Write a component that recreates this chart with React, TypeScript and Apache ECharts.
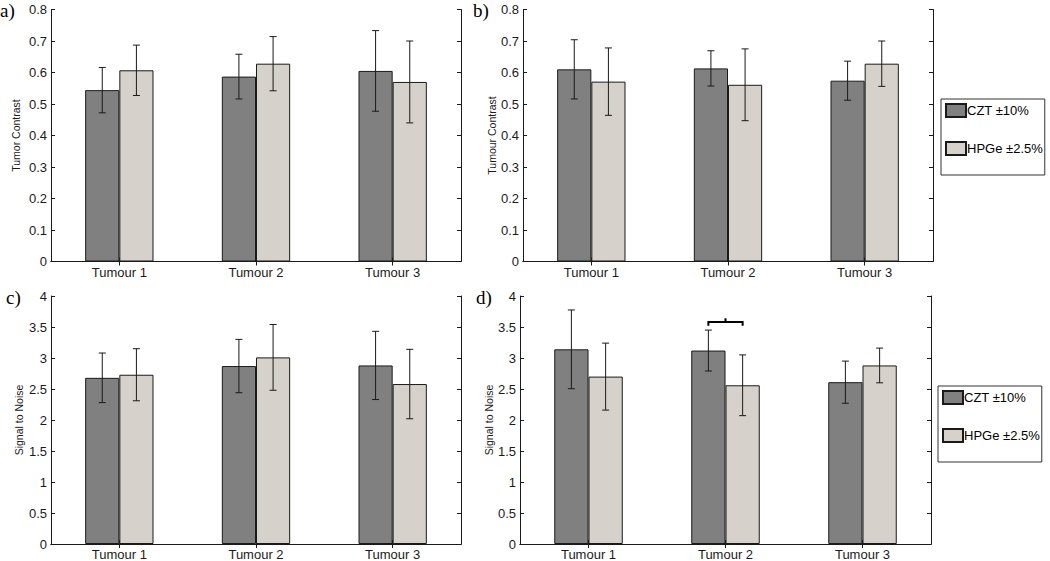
import React, { useEffect, useRef } from "react";
import * as echarts from "echarts";

// ---------- data ----------
const categories = ["Tumour 1", "Tumour 2", "Tumour 3"];
const seriesNames = ["CZT ±10%", "HPGe ±2.5%"];
const panelLetters = ["a)", "b)", "c)", "d)"];
const yAxisNames = ["Tumor Contrast", "Tumour Contrast", "Signal to Noise", "Signal to Noise"];
const yMaxes = [0.8, 0.8, 4, 4];
const yIntervals = [0.1, 0.1, 0.5, 0.5];

// panel a) tumour contrast
const aCzt = [0.544, 0.587, 0.605];
const aCztErr = [0.072, 0.071, 0.128];
const aHpge = [0.607, 0.628, 0.57];
const aHpgeErr = [0.08, 0.086, 0.13];
// panel b) tumour contrast
const bCzt = [0.61, 0.613, 0.574];
const bCztErr = [0.094, 0.056, 0.062];
const bHpge = [0.571, 0.561, 0.628];
const bHpgeErr = [0.107, 0.114, 0.072];
// panel c) signal to noise
const cCzt = [2.68, 2.87, 2.88];
const cCztErr = [0.4, 0.43, 0.55];
const cHpge = [2.73, 3.01, 2.58];
const cHpgeErr = [0.42, 0.53, 0.56];
// panel d) signal to noise
const dCzt = [3.14, 3.12, 2.61];
const dCztErr = [0.635, 0.33, 0.34];
const dHpge = [2.7, 2.56, 2.88];
const dHpgeErr = [0.54, 0.49, 0.28];
// significance brace in panel d (category index, end level, line level, peak level)
const braceCategory = 1;
const braceLevels = [3.52, 3.58, 3.64];

const panelValues = [
  [aCzt, aHpge],
  [bCzt, bHpge],
  [cCzt, cHpge],
  [dCzt, dHpge],
];
const panelErrors = [
  [aCztErr, aHpgeErr],
  [bCztErr, bHpgeErr],
  [cCztErr, cHpgeErr],
  [dCztErr, dHpgeErr],
];

// ---------- layout / style ----------
const grids = [
  { left: 51, top: 9.5, width: 410, height: 252 },
  { left: 523, top: 9.5, width: 410, height: 252 },
  { left: 51, top: 296, width: 410, height: 251.5 },
  { left: 520, top: 296, width: 411, height: 251.5 },
];
const nameGaps = [30, 25.5, 27, 26];
const letterPos = [
  [0, 1],
  [473, 1],
  [6, 288],
  [476, 288],
];
const colors = ["#808080", "#d6d2cb"];
const ink = "#1a1a1a";
const sans = "'Liberation Sans', Arial, sans-serif";
const serif = "'Liberation Serif', 'Times New Roman', serif";

function buildOption() {
  const xAxes: any[] = [];
  const yAxes: any[] = [];
  const series: any[] = [];
  const graphics: any[] = [];

  grids.forEach((g, p) => {
    xAxes.push({
      type: "category",
      gridIndex: p,
      data: categories,
      position: "bottom",
      axisLine: { show: true, lineStyle: { color: ink, width: 1 } },
      axisTick: { show: true, inside: true, alignWithLabel: true, length: 4, lineStyle: { color: ink } },
      axisLabel: { color: ink, fontSize: 13, fontFamily: sans, margin: 4 },
      splitLine: { show: false },
    });
    xAxes.push({
      type: "category",
      gridIndex: p,
      data: categories,
      position: "top",
      axisLine: { show: true, lineStyle: { color: ink, width: 1 } },
      axisTick: { show: true, inside: true, alignWithLabel: true, length: 4, lineStyle: { color: ink } },
      axisLabel: { show: false },
      splitLine: { show: false },
    });
    yAxes.push({
      type: "value",
      gridIndex: p,
      min: 0,
      max: yMaxes[p],
      interval: yIntervals[p],
      position: "left",
      name: yAxisNames[p],
      nameLocation: "middle",
      nameRotate: 90,
      nameGap: nameGaps[p],
      nameTextStyle: { color: ink, fontSize: 10.5, fontFamily: sans },
      axisLine: { show: true, lineStyle: { color: ink, width: 1 } },
      axisTick: { show: true, inside: true, length: 4, lineStyle: { color: ink } },
      axisLabel: { color: ink, fontSize: 13, fontFamily: sans, margin: 4 },
      splitLine: { show: false },
    });
    yAxes.push({
      type: "value",
      gridIndex: p,
      min: 0,
      max: yMaxes[p],
      interval: yIntervals[p],
      position: "right",
      axisLine: { show: true, lineStyle: { color: ink, width: 1 } },
      axisTick: { show: true, inside: true, length: 4, lineStyle: { color: ink } },
      axisLabel: { show: false },
      splitLine: { show: false },
    });

    [0, 1].forEach((s) => {
      series.push({
        type: "bar",
        name: seriesNames[s],
        xAxisIndex: 2 * p,
        yAxisIndex: 2 * p,
        data: panelValues[p][s],
        barGap: "0%",
        barCategoryGap: "50%",
        itemStyle: { color: colors[s], borderColor: ink, borderWidth: 1 },
        z: 2,
      });
    });

    [0, 1].forEach((s) => {
      const side = s === 0 ? -1 : 1;
      const vals = panelValues[p][s];
      const errs = panelErrors[p][s];
      series.push({
        type: "custom",
        name: "err" + p + s,
        xAxisIndex: 2 * p,
        yAxisIndex: 2 * p,
        z: 5,
        encode: { x: 0, y: [1, 2] },
        data: vals.map((v, i) => [i, v - errs[i], v + errs[i]]),
        renderItem: (params: any, api: any) => {
          const x = api.value(0);
          const lo = api.coord([x, api.value(1)]);
          const hi = api.coord([x, api.value(2)]);
          const band = api.size([1, 0])[0];
          const cx = lo[0] + side * band * 0.125;
          const cap = 3.5;
          const st = { stroke: ink, lineWidth: 1 };
          return {
            type: "group",
            children: [
              { type: "line", shape: { x1: cx, y1: lo[1], x2: cx, y2: hi[1] }, style: st },
              { type: "line", shape: { x1: cx - cap, y1: lo[1], x2: cx + cap, y2: lo[1] }, style: st },
              { type: "line", shape: { x1: cx - cap, y1: hi[1], x2: cx + cap, y2: hi[1] }, style: st },
            ],
          };
        },
      });
    });

    graphics.push({
      type: "text",
      left: letterPos[p][0],
      top: letterPos[p][1],
      style: { text: panelLetters[p], fontSize: 19, fontFamily: serif, fill: "#000" },
    });
  });

  // significance brace, panel d
  series.push({
    type: "custom",
    name: "brace",
    xAxisIndex: 6,
    yAxisIndex: 6,
    z: 6,
    encode: { x: 0, y: [1, 2, 3] },
    data: [[braceCategory, braceLevels[0], braceLevels[1], braceLevels[2]]],
    renderItem: (params: any, api: any) => {
      const x = api.value(0);
      const band = api.size([1, 0])[0];
      const c = api.coord([x, api.value(2)]);
      const yEnd = api.coord([x, api.value(1)])[1];
      const yPeak = api.coord([x, api.value(3)])[1];
      const xL = c[0] - band * 0.125;
      const xR = c[0] + band * 0.125;
      return {
        type: "polyline",
        shape: {
          points: [
            [xL, yEnd],
            [xL, c[1]],
            [c[0], c[1]],
            [c[0], yPeak],
            [c[0], c[1]],
            [xR, c[1]],
            [xR, yEnd],
          ],
        },
        style: { stroke: "#000", lineWidth: 2, fill: "none" },
      };
    },
  });

  const legendBase = {
    orient: "vertical",
    data: seriesNames,
    icon: "rect",
    itemWidth: 20,
    itemHeight: 13,
    itemGap: 23,
    padding: [4, 2, 19, 4],
    borderColor: "#333",
    borderWidth: 1,
    backgroundColor: "#fff",
    selectedMode: false,
    textStyle: { color: "#000", fontSize: 13, fontFamily: sans, padding: [0, 0, 0, -4] },
  };

  return {
    animation: false,
    backgroundColor: "#fff",
    grid: grids.map((g) => ({ ...g, containLabel: false })),
    xAxis: xAxes,
    yAxis: yAxes,
    series,
    legend: [
      { ...legendBase, left: 941, top: 99 },
      { ...legendBase, left: 938, top: 386 },
    ],
    graphic: graphics,
  };
}

export default function App() {
  const ref = useRef<HTMLDivElement>(null);
  useEffect(() => {
    if (!ref.current) return;
    const chart = echarts.init(ref.current, undefined, { renderer: "svg" });
    chart.setOption(buildOption() as any);
    return () => chart.dispose();
  }, []);
  return (
    <div
      ref={ref}
      style={{ position: "fixed", left: 0, top: 0, width: 1050, height: 561, background: "#fff" }}
    />
  );
}
